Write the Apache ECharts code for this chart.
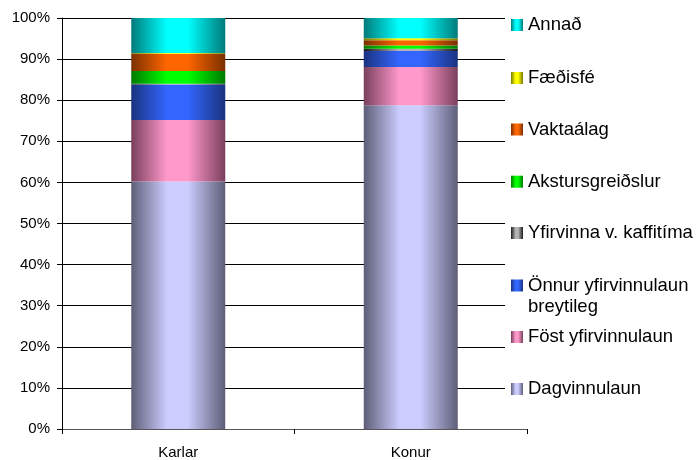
<!DOCTYPE html>
<html>
<head>
<meta charset="utf-8">
<script src="https://cdn.jsdelivr.net/npm/echarts@6/dist/echarts.min.js"></script>
<style>html,body{margin:0;padding:0;background:#fff;}#chart{width:699px;height:460px;}</style>
</head>
<body>
<div id="chart"></div>
<script>
var categories = ['Karlar', 'Konur'];
var yTicks = [0, 10, 20, 30, 40, 50, 60, 70, 80, 90, 100];

var dagvinnulaun = [60.2, 78.8];
var fostYfirvinnulaun = [15.0, 9.3];
var onnurYfirvinnulaun = [8.6, 3.9];
var yfirvinnaKaffi = [0.2, 0.5];
var akstursgreidslur = [3.1, 0.8];
var vaktaalag = [4.2, 1.3];
var faedisfe = [0.2, 0.5];
var annad = [8.5, 4.9];

var seriesNames = ['Dagvinnulaun', 'Föst yfirvinnulaun', 'Önnur yfirvinnulaun breytileg', 'Yfirvinna v. kaffitíma', 'Akstursgreiðslur', 'Vaktaálag', 'Fæðisfé', 'Annað'];
var seriesValues = [dagvinnulaun, fostYfirvinnulaun, onnurYfirvinnulaun, yfirvinnaKaffi, akstursgreidslur, vaktaalag, faedisfe, annad];
var lightColors = ['#CCCCFF', '#FF99CC', '#3366FF', '#B4B4B4', '#00FF00', '#FF6600', '#FFFF00', '#00FFFF'];
var darkColors = ['#5E5E78', '#7A3F5C', '#1A3380', '#1A1A1A', '#007A00', '#7A3000', '#7A7A00', '#007A7A'];

function grad(i) {
  return new echarts.graphic.LinearGradient(0, 0, 1, 0, [
    {offset: 0, color: darkColors[i]},
    {offset: 0.38, color: lightColors[i]},
    {offset: 0.6, color: lightColors[i]},
    {offset: 1, color: darkColors[i]}
  ]);
}

var FONT = '"Liberation Sans", Arial, sans-serif';
var legendCenters = [389, 337, 285.5, 233, 181.7, 129.5, 78, 25];

var series = seriesNames.map(function (n, i) {
  return {
    name: n,
    type: 'bar',
    stack: 'total',
    barWidth: 94,
    data: seriesValues[i],
    itemStyle: {color: grad(i)}
  };
});

var legends = seriesNames.map(function (n, i) {
  var multi = (i === 2);
  return {
    show: true,
    orient: 'vertical',
    left: 511,
    top: multi ? legendCenters[i] - 31.5 : legendCenters[i] - 11,
    padding: 0,
    itemWidth: 12,
    itemHeight: 12,
    icon: 'rect',
    selectedMode: false,
    data: [n],
    formatter: multi ? function () { return '\nÖnnur yfirvinnulaun\nbreytileg'; } : undefined,
    textStyle: {
      fontFamily: FONT,
      fontSize: 18.5,
      color: '#000',
      lineHeight: multi ? 21 : 22
    }
  };
});

var chart = echarts.init(document.getElementById('chart'), null, {renderer: 'canvas'});
chart.setOption({
  animation: false,
  backgroundColor: '#fff',
  grid: {left: 62, right: 172, top: 18, bottom: 31, containLabel: false},
  legend: legends,
  graphic: [{
    type: 'rect',
    z: 1,
    shape: {x: 505, y: 4, width: 194, height: 400},
    style: {fill: '#fff'}
  }],
  xAxis: {
    type: 'category',
    data: categories,
    axisLine: {lineStyle: {color: '#555', width: 1}},
    axisTick: {show: true, length: 5, lineStyle: {color: '#000'}},
    axisLabel: {fontFamily: FONT, fontSize: 15, color: '#000', margin: 16}
  },
  yAxis: {
    type: 'value',
    min: yTicks[0],
    max: yTicks[yTicks.length - 1],
    interval: 10,
    axisLine: {show: true, lineStyle: {color: '#000'}},
    axisTick: {show: true, length: 5, lineStyle: {color: '#000'}},
    axisLabel: {fontFamily: FONT, fontSize: 15, color: '#000', margin: 12, formatter: '{value}%'},
    splitLine: {show: true, lineStyle: {color: '#000', width: 1}}
  },
  series: series
});
</script>
</body>
</html>
